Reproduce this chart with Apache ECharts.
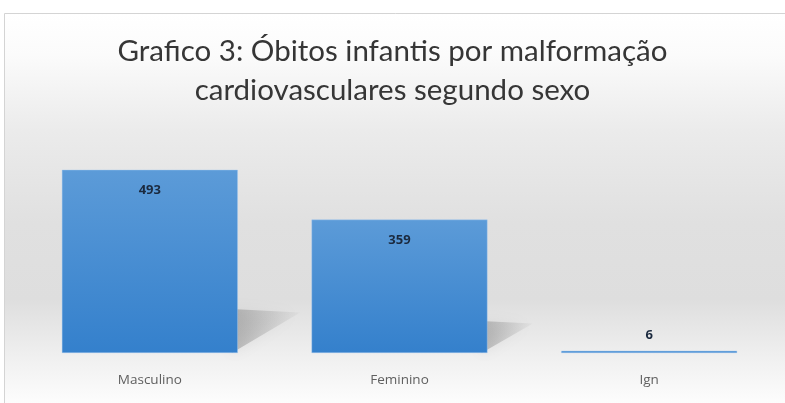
<!DOCTYPE html>
<html>
<head>
<meta charset="utf-8">
<script src="https://cdn.jsdelivr.net/npm/echarts@6/dist/echarts.min.js"></script>
<style>
html,body{margin:0;padding:0;background:#fff;}
#c{width:785px;height:403px;}
</style>
</head>
<body>
<div id="c"></div>
<script>
const titleText = 'Grafico 3: Óbitos infantis por malformação\ncardiovasculares segundo sexo';
const categories = ['Masculino', 'Feminino', 'Ign'];
const obitos = [493, 359, 6];

const chart = echarts.init(document.getElementById('c'));
const BAR_FRAC = 0.705;

const barData = obitos.map(v => v < 50
  ? { value: v, label: { position: 'top', distance: 9 } }
  : { value: v });

const option = {
  backgroundColor: '#ffffff',
  animation: false,
  graphic: [{
    type: 'rect',
    z: -10,
    shape: { x: 4.5, y: 13.5, width: 820, height: 420 },
    style: {
      fill: {
        type: 'linear', x: 0, y: 0, x2: 0, y2: 1,
        colorStops: [
          { offset: 0, color: '#ffffff' },
          { offset: 0.1, color: '#fbfbfb' },
          { offset: 0.28, color: '#ebebeb' },
          { offset: 0.5, color: '#e0e0e0' },
          { offset: 0.68, color: '#dedede' },
          { offset: 0.82, color: '#f0f0f0' },
          { offset: 0.92, color: '#fcfcfc' },
          { offset: 1, color: '#ffffff' }
        ]
      },
      stroke: '#d4d4d4',
      lineWidth: 1
    }
  }],
  title: {
    text: titleText,
    left: 'center',
    top: 27,
    textStyle: {
      fontFamily: 'Lato',
      fontWeight: 'normal',
      fontSize: 29.5,
      lineHeight: 39,
      color: '#363636'
    }
  },
  grid: { left: 25, right: 11, top: 130, bottom: 50 },
  xAxis: {
    type: 'category',
    data: categories,
    axisLine: { show: false },
    axisTick: { show: false },
    axisLabel: {
      margin: 20,
      fontFamily: 'Open Sans',
      fontSize: 13.5,
      color: '#606060'
    }
  },
  yAxis: {
    type: 'value',
    min: 0,
    max: 600,
    show: false,
    splitLine: { show: false }
  },
  series: [
    {
      type: 'custom',
      z: 1,
      silent: true,
      data: obitos.map((v, i) => [i, v]),
      renderItem: function (params, api) {
        const idx = api.value(0);
        const v = api.value(1);
        const base = api.coord([idx, 0]);
        const top = api.coord([idx, v]);
        const bw = api.size([1, 0])[0] * BAR_FRAC;
        const xr = base[0] + bw / 2;
        const yb = base[1];
        const h = yb - top[1];
        const sk = 0.34 * h;
        const s = 0.24 * h;
        return {
          type: 'polygon',
          shape: {
            points: [
              [xr - 6, yb - s],
              [xr + sk, yb - s * 0.92],
              [xr - 6, yb]
            ]
          },
          style: {
            fill: {
              type: 'linear', x: 0, y: 0, x2: 1, y2: 0,
              colorStops: [
                { offset: 0, color: 'rgba(90,90,90,0.34)' },
                { offset: 1, color: 'rgba(90,90,90,0.03)' }
              ]
            },
            shadowBlur: 14,
            shadowColor: 'rgba(90,90,90,0.35)'
          }
        };
      }
    },
    {
      type: 'bar',
      z: 2,
      data: barData,
      barWidth: (BAR_FRAC * 100) + '%',
      itemStyle: {
        color: {
          type: 'linear', x: 0, y: 0, x2: 0, y2: 1,
          colorStops: [
            { offset: 0, color: '#5c9bd8' },
            { offset: 1, color: '#3480cc' }
          ]
        },
        borderColor: 'rgba(160,200,240,0.7)',
        borderWidth: 0.6
      },
      label: {
        show: true,
        position: 'insideTop',
        distance: 14,
        fontFamily: 'Open Sans',
        fontWeight: 'bold',
        fontSize: 13,
        color: '#1b2a3f'
      }
    }
  ]
};
chart.setOption(option);
</script>
</body>
</html>
